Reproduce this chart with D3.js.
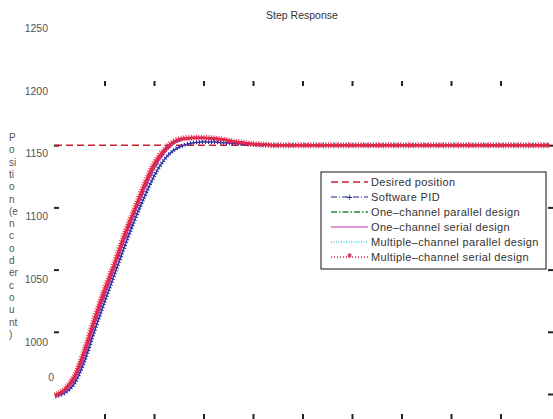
<html>
<head>
<title>Step Response</title>
<script src="https://d3js.org/d3.v7.min.js" charset="utf-8"></script>
<style>
    body { margin: 0; background: white; }
    svg { font-family: "Liberation Sans", Arial, sans-serif; }
    .tk line { stroke: #222; stroke-width: 2; }
    .tk path { display: none; }
    .lbl text { fill: #555; font-size: 10.5px; }
    .lbl line, .lbl path { display: none; }
</style>
</head>
<body>
<script>
// time samples (s)
var time = [0, 0.2, 0.4, 0.6, 0.8, 1.0, 1.2, 1.4, 1.6, 1.8, 2.0, 2.2, 2.4, 2.6, 2.8, 3.0,
            3.2, 3.4, 3.6, 3.8, 4.0, 4.2, 4.4, 5, 5.5, 6, 6.5, 7, 7.5, 8, 8.5, 9, 9.5, 10];

var desired = 1150;

var softwarePID = [948, 951, 959, 977, 1001, 1024, 1046, 1068, 1089, 1108, 1125, 1138, 1146, 1150, 1152, 1152.5,
                   1152.5, 1152, 1151.5, 1151, 1150.5, 1150.2, 1150, 1150, 1150, 1150, 1150, 1150, 1150, 1150, 1150, 1150, 1150, 1150];
var oneParallel = [948.5, 953, 962, 982, 1006, 1029, 1051, 1073, 1094, 1113, 1130, 1143, 1151, 1154.5, 1155.5, 1155.5,
                   1155, 1154, 1153, 1152, 1151, 1150.5, 1150, 1150, 1150, 1150, 1150, 1150, 1150, 1150, 1150, 1150, 1150, 1150];
var oneSerial = [948.5, 953, 963, 983, 1008, 1031, 1053, 1075, 1096, 1115, 1132, 1144, 1152, 1155, 1155.8, 1155.8,
                 1155.3, 1154.3, 1153, 1152, 1151, 1150.5, 1150, 1150, 1150, 1150, 1150, 1150, 1150, 1150, 1150, 1150, 1150, 1150];
var multiParallel = [949, 954, 964, 985, 1010, 1033, 1054, 1077, 1097, 1117, 1134, 1145, 1152.5, 1155.3, 1156, 1156,
                     1155.5, 1154.5, 1153, 1152, 1151, 1150.5, 1150, 1150, 1150, 1150, 1150, 1150, 1150, 1150, 1150, 1150, 1150, 1150];
var multiSerial = [949, 954, 965, 986, 1011, 1034, 1055, 1078, 1098, 1118, 1135, 1146, 1153, 1155.5, 1156, 1156,
                   1155.5, 1154.5, 1153, 1152, 1151, 1150.5, 1150, 1150, 1150, 1150, 1150, 1150, 1150, 1150, 1150, 1150, 1150, 1150];

var xTicks = [1, 2, 3, 4, 5, 6, 7, 8, 9];
var yTicksLeft = [1000, 1050, 1100, 1150];
var yTicksRight = [950, 1000, 1050, 1100, 1150];
var yLabels = [1000, 1050, 1100, 1150, 1200, 1250];
var yTitle = ["P", "o", "si", "ti", "o", "n", "(e", "n", "c", "o", "d", "er", "c", "o", "u", "nt", ")"];

var legendNames = ["Desired position", "Software PID", "One\u2013channel parallel design",
                   "One\u2013channel serial design", "Multiple\u2013channel parallel design", "Multiple\u2013channel serial design"];

var width = 553, height = 419;

var svg = d3.select("body").append("svg")
    .attr("width", width)
    .attr("height", height);

var x = d3.scaleLinear().domain([0, 10]).range([55, 550]);
var y = d3.scaleLinear().domain([950, 1200]).range([394, 83]);
// tick labels sit a bit below their ticks in the original
var yLab = d3.scaleLinear().domain([1000, 1250]).range([342, 28]);

// title
svg.append("text")
    .attr("x", 302).attr("y", 19)
    .attr("text-anchor", "middle")
    .attr("font-size", "10.5px")
    .attr("fill", "#333")
    .text("Step Response");

// ticks (no frame lines visible)
svg.append("g").attr("class", "tk").attr("transform", "translate(0,81)")
    .call(d3.axisTop(x).tickValues(xTicks).tickSize(-5).tickFormat(""));
svg.append("g").attr("class", "tk").attr("transform", "translate(0,419)")
    .call(d3.axisBottom(x).tickValues(xTicks).tickSize(-5).tickFormat(""));
svg.append("g").attr("class", "tk").attr("transform", "translate(54,0)")
    .call(d3.axisLeft(y).tickValues(yTicksLeft).tickSize(-5).tickFormat(""));
svg.append("g").attr("class", "tk").attr("transform", "translate(553,0)")
    .call(d3.axisRight(y).tickValues(yTicksRight).tickSize(-5).tickFormat(""));

// tick labels
svg.append("g").attr("class", "lbl").attr("transform", "translate(48,0)")
    .call(d3.axisLeft(yLab).tickValues(yLabels).tickSize(0).tickPadding(0).tickFormat(d3.format("d")));
svg.append("text")
    .attr("x", 54).attr("y", 381)
    .attr("text-anchor", "end")
    .attr("font-size", "10.5px")
    .attr("fill", "#555")
    .text("0");

// y title, one chunk per line
svg.append("g").selectAll("text")
    .data(yTitle)
    .enter()
    .append("text")
    .attr("x", 9)
    .attr("y", function(d, i) { return 141 + i * 12.3; })
    .attr("font-size", "10px")
    .attr("fill", "#555")
    .text(function(d) { return d; });

var line = d3.line()
    .x(function(d) { return x(d[0]); })
    .y(function(d) { return y(d[1]); })
    .curve(d3.curveMonotoneX);

function pts(vals) {
    return time.map(function(t, i) { return [t, vals[i]]; });
}

var plot = svg.append("g");

// desired position
plot.append("line")
    .attr("x1", x(0)).attr("x2", x(10))
    .attr("y1", y(desired)).attr("y2", y(desired))
    .attr("stroke", "#c8202c")
    .attr("stroke-width", 1.6)
    .attr("stroke-dasharray", "7 4");

plot.append("path").attr("d", line(pts(multiParallel)))
    .attr("fill", "none").attr("stroke", "#55cccc").attr("stroke-width", 1.5)
    .attr("stroke-dasharray", "1 2");
plot.append("path").attr("d", line(pts(oneParallel)))
    .attr("fill", "none").attr("stroke", "#2a8a3a").attr("stroke-width", 1.5)
    .attr("stroke-dasharray", "6 2 1 2");
// software PID: dash-dot with + markers
plot.append("path").attr("d", line(pts(softwarePID)))
    .attr("fill", "none").attr("stroke", "#2020a0").attr("stroke-width", 4)
    .attr("stroke-dasharray", "1 2");
plot.append("path").attr("d", line(pts(softwarePID)))
    .attr("fill", "none").attr("stroke", "#3030a8").attr("stroke-width", 1.5);
plot.append("path").attr("d", line(pts(oneSerial)))
    .attr("fill", "none").attr("stroke", "#cc33aa").attr("stroke-width", 2.5);
// multiple-channel serial: dotted with dense asterisks
plot.append("path").attr("d", line(pts(multiSerial)))
    .attr("fill", "none").attr("stroke", "#e8203c").attr("stroke-width", 6)
    .attr("stroke-dasharray", "1 1.5").attr("opacity", 0.85);
plot.append("path").attr("d", line(pts(multiSerial)))
    .attr("fill", "none").attr("stroke", "#e02848").attr("stroke-width", 2.5);

// legend
var lg = svg.append("g").attr("transform", "translate(321,172)");
lg.append("rect")
    .attr("width", 225).attr("height", 97)
    .attr("fill", "white").attr("stroke", "#111").attr("stroke-width", 1);

var styles = [
    {c: "#c8202c", dash: "7 4", w: 1.6},
    {c: "#2020a0", dash: "6 2 1 2", w: 1},
    {c: "#2a8a3a", dash: "6 2 1.5 2", w: 1.5},
    {c: "#cc33aa", dash: null, w: 1.2},
    {c: "#55cccc", dash: "1 1.5", w: 1.3},
    {c: "#e02848", dash: "1 2", w: 1.3}
];

var rowGap = 15;
var rows = lg.selectAll(".row")
    .data(legendNames)
    .enter()
    .append("g")
    .attr("transform", function(d, i) { return "translate(0," + (10 + i * rowGap) + ")"; });

rows.append("line")
    .attr("x1", 10).attr("x2", 47)
    .attr("y1", 0).attr("y2", 0)
    .attr("stroke", function(d, i) { return styles[i].c; })
    .attr("stroke-width", function(d, i) { return styles[i].w; })
    .attr("stroke-dasharray", function(d, i) { return styles[i].dash; });

rows.append("text")
    .attr("x", 50).attr("y", 4)
    .attr("font-size", "11px")
    .attr("letter-spacing", "0.35px")
    .attr("fill", "#333")
    .text(function(d) { return d; });

// markers in legend
lg.append("text").attr("x", 28.5).attr("y", 10 + rowGap + 3.5)
    .attr("text-anchor", "middle").attr("font-size", "10px").attr("fill", "#2020a0").text("+");
lg.append("text").attr("x", 28.5).attr("y", 10 + 5 * rowGap + 5)
    .attr("text-anchor", "middle").attr("font-size", "12px").attr("font-weight", "bold").attr("fill", "#e02848").text("*");
</script>
</body>
</html>
